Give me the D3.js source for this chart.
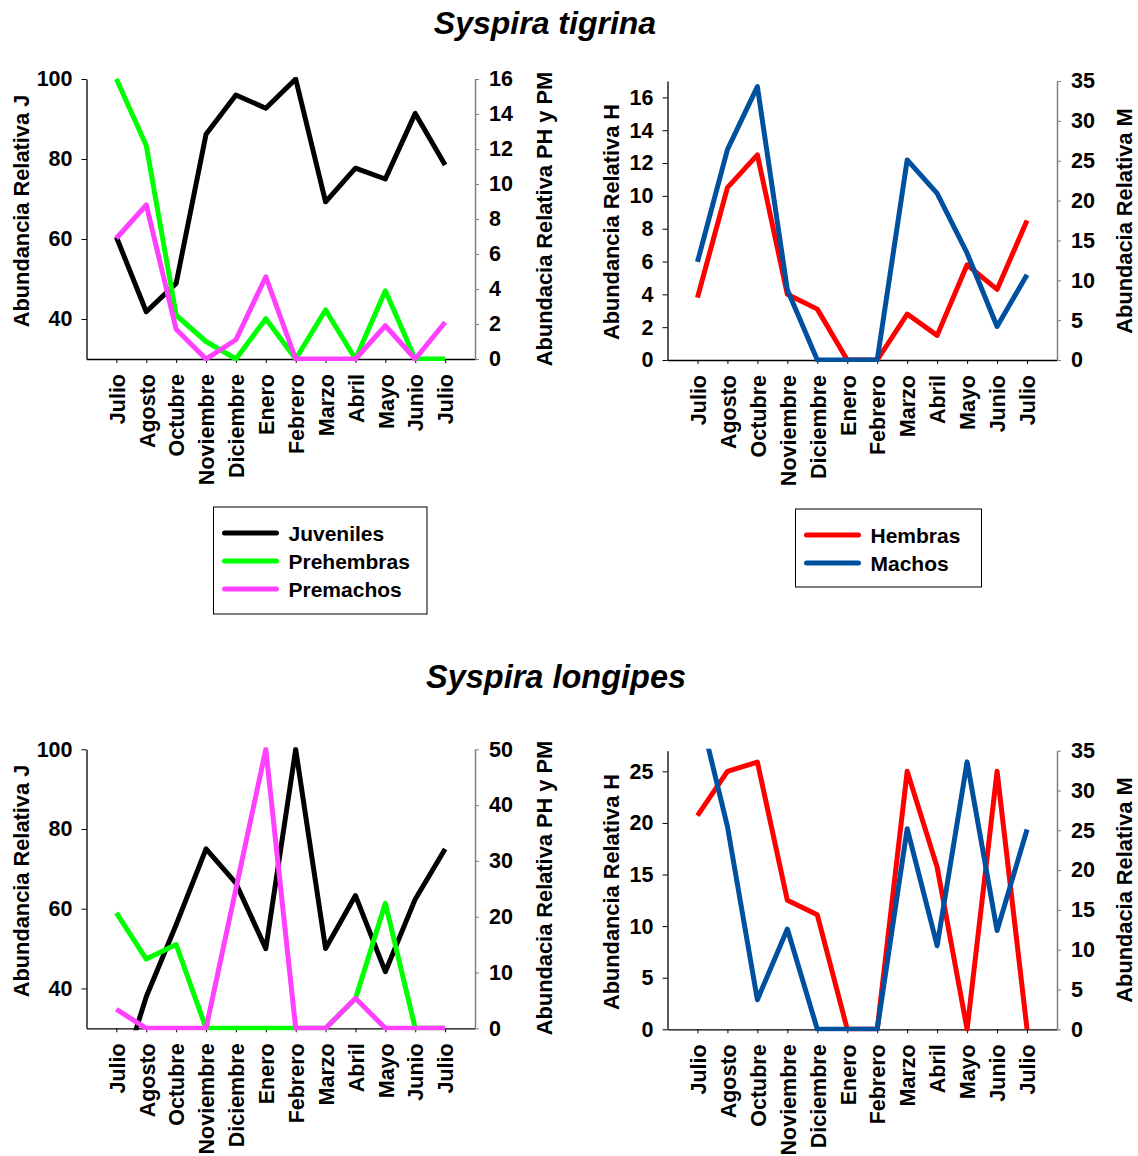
<!DOCTYPE html>
<html>
<head>
<meta charset="utf-8">
<script src="https://cdn.jsdelivr.net/npm/d3@7"></script>
<style>
  body { margin: 0; background: #fff; }
  text { font-family: "Liberation Sans", Arial, sans-serif; font-weight: bold; fill: #000; }
</style>
</head>
<body>
<div id="chart"></div>
<script>
// meses de muestreo
var meses = ["Julio", "Agosto", "Octubre", "Noviembre", "Diciembre", "Enero", "Febrero", "Marzo", "Abril", "Mayo", "Junio", "Julio"];

// Syspira tigrina
var tigJuveniles = [60.5, 41.8, 48.9, 86.2, 96, 92.7, 100, 69.3, 77.7, 75, 91.4, 78.5];
var tigPrehembras = [16, 12.2, 2.5, 1.0, 0, 2.3, 0, 2.8, 0, 3.9, 0, 0];
var tigPremachos = [6.9, 8.8, 1.7, 0, 1.1, 4.7, 0, 0, 0, 1.9, 0, 2.1];
var tigHembras = [3.8, 10.5, 12.5, 4.0, 3.1, 0, 0, 2.8, 1.5, 5.8, 4.3, 8.5];
var tigMachos = [12.3, 26.4, 34.3, 8.8, 0, 0, 0, 25.1, 20.9, 13.4, 4.2, 10.7];

// Syspira longipes
var lonJuveniles = [14, 37.9, 56, 75, 66.4, 50, 100, 50, 63.3, 44.2, 62.4, 75];
var lonPrehembras = [20.7, 12.4, 15, 0, 0, 0, 0, 0, 5.3, 22.4, 0, 0];
var lonPremachos = [3.4, 0, 0, 0, 25, 50, 0, 0, 5.4, 0, 0, 0];
var lonHembras = [20.7, 25, 25.9, 12.5, 11.1, 0, 0, 25, 15.7, 0, 25, 0];
var lonMachos = [41, 25.5, 3.7, 12.6, 0, 0, 0, 25.2, 10.5, 33.6, 12.4, 25.1];

// ticks
var ticksJ = [40, 60, 80, 100];
var ticksTigP = [0, 2, 4, 6, 8, 10, 12, 14, 16];
var ticksLonP = [0, 10, 20, 30, 40, 50];
var ticksTigH = [0, 2, 4, 6, 8, 10, 12, 14, 16];
var ticksLonH = [0, 5, 10, 15, 20, 25];
var ticksM = [0, 5, 10, 15, 20, 25, 30, 35];

var colores = {
    juv: "#000000",
    preh: "#00ff00",
    prem: "#ff40ff",
    hem: "#ff0000",
    mac: "#0050a0"
};

var width = 1138, height = 1156;
var svg = d3.select("#chart").append("svg")
    .attr("width", width)
    .attr("height", height);

var clipCount = 0;

function drawPanel(p) {
    var g = svg.append("g");
    var idx = meses.map(function (d, i) { return String(i); });

    var x = d3.scalePoint().domain(idx).range([p.x0, p.x1]).padding(1);
    var yL = d3.scaleLinear().domain(p.left.domain).range([p.y1, p.y0]);
    var yR = d3.scaleLinear().domain(p.right.domain).range([p.y1, p.y0]);

    // eje x
    var ax = g.append("g")
        .attr("transform", "translate(0," + p.y1 + ")")
        .call(d3.axisBottom(x).tickSize(4).tickSizeOuter(0).tickFormat(function (d) { return meses[+d]; }));
    ax.select(".domain").attr("stroke", "#000").attr("stroke-width", 1.3);
    ax.selectAll(".tick line").attr("stroke", "#000");

    // eje izquierdo
    var al = g.append("g")
        .attr("transform", "translate(" + p.x0 + ",0)")
        .call(d3.axisLeft(yL).tickValues(p.left.ticks).tickSize(5).tickSizeOuter(0).tickPadding(9));
    al.select(".domain").attr("stroke", "#000").attr("stroke-width", 1.3);
    al.selectAll(".tick line").attr("stroke", "#000");

    // eje derecho
    var ar = g.append("g")
        .attr("transform", "translate(" + p.x1 + ",0)")
        .call(d3.axisRight(yR).tickValues(p.right.ticks).tickSize(4).tickSizeOuter(0).tickPadding(10));
    ar.select(".domain").attr("stroke", "#808080").attr("stroke-width", 1.5);
    ar.selectAll(".tick line").attr("stroke", "#808080");

    g.selectAll(".tick text")
        .style("font-size", "21.5px")
        .style("font-family", "Liberation Sans, Arial, sans-serif")
        .style("font-weight", "bold")
        .attr("fill", "#000");

    ax.selectAll(".tick text")
        .attr("transform", "rotate(-90)")
        .attr("text-anchor", "end")
        .attr("x", -15)
        .attr("y", 0)
        .attr("dy", "0.36em");

    // titulos de ejes
    g.append("text")
        .attr("transform", "translate(" + p.left.tx + "," + p.left.ty + ") rotate(-90)")
        .attr("text-anchor", "middle")
        .attr("dy", "0.36em")
        .style("font-size", "21.8px")
        .text(p.left.title);
    g.append("text")
        .attr("transform", "translate(" + p.right.tx + "," + p.right.ty + ") rotate(-90)")
        .attr("text-anchor", "middle")
        .attr("dy", "0.36em")
        .style("font-size", "21.8px")
        .text(p.right.title);

    // lineas
    clipCount++;
    var clipId = "clip" + clipCount;
    g.append("clipPath").attr("id", clipId)
        .append("rect")
        .attr("x", p.x0 - 10)
        .attr("y", p.y0 - 2)
        .attr("width", p.x1 - p.x0 + 20)
        .attr("height", p.y1 - p.y0 + 4);

    var lines = g.append("g").attr("clip-path", "url(#" + clipId + ")");
    p.series.forEach(function (s) {
        var y = s.axis === "left" ? yL : yR;
        var line = d3.line()
            .x(function (d, i) { return x(String(i)); })
            .y(function (d) { return y(d); });
        lines.append("path")
            .datum(s.values)
            .attr("d", line)
            .attr("fill", "none")
            .attr("stroke", s.color)
            .attr("stroke-width", 5)
            .attr("stroke-linejoin", "round")
            .attr("stroke-linecap", "butt");
    });
}

function drawLegend(l) {
    var g = svg.append("g");
    g.append("rect")
        .attr("x", l.x).attr("y", l.y)
        .attr("width", l.w).attr("height", l.h)
        .attr("fill", "#fff")
        .attr("stroke", "#000")
        .attr("stroke-width", 1);
    l.items.forEach(function (it, i) {
        var yy = l.y + 26 + i * 28;
        g.append("line")
            .attr("x1", l.x + 11).attr("x2", l.x + 63)
            .attr("y1", yy).attr("y2", yy)
            .attr("stroke", it.color)
            .attr("stroke-width", 5)
            .attr("stroke-linecap", "round");
        g.append("text")
            .attr("x", l.x + 75).attr("y", yy)
            .attr("dy", "0.36em")
            .style("font-size", "21px")
            .text(it.name);
    });
}

// titulos
svg.append("text")
    .attr("x", 545).attr("y", 34)
    .attr("text-anchor", "middle")
    .style("font-size", "32px")
    .style("font-style", "italic")
    .text("Syspira tigrina");
svg.append("text")
    .attr("x", 556).attr("y", 688)
    .attr("text-anchor", "middle")
    .style("font-size", "32.5px")
    .style("font-style", "italic")
    .text("Syspira longipes");

// S. tigrina: juveniles y pre-adultos
drawPanel({
    x0: 86.5, x1: 475, y0: 79, y1: 359,
    left: { domain: [30, 100], ticks: ticksJ, title: "Abundancia Relativa J", tx: 21, ty: 211 },
    right: { domain: [0, 16], ticks: ticksTigP, title: "Abundacia Relativa PH y PM", tx: 544, ty: 219 },
    series: [
        { values: tigJuveniles, color: colores.juv, axis: "left" },
        { values: tigPrehembras, color: colores.preh, axis: "right" },
        { values: tigPremachos, color: colores.prem, axis: "right" }
    ]
});

// S. tigrina: adultos
drawPanel({
    x0: 667.5, x1: 1057, y0: 81, y1: 360,
    left: { domain: [0, 17], ticks: ticksTigH, title: "Abundancia Relativa H", tx: 611, ty: 222 },
    right: { domain: [0, 35], ticks: ticksM, title: "Abundacia Relativa M", tx: 1124, ty: 221 },
    series: [
        { values: tigHembras, color: colores.hem, axis: "left" },
        { values: tigMachos, color: colores.mac, axis: "right" }
    ]
});

// S. longipes: juveniles y pre-adultos
drawPanel({
    x0: 86.5, x1: 475, y0: 749.3, y1: 1028.3,
    left: { domain: [30, 100], ticks: ticksJ, title: "Abundancia Relativa J", tx: 21, ty: 881 },
    right: { domain: [0, 50], ticks: ticksLonP, title: "Abundacia Relativa PH y PM", tx: 544, ty: 888 },
    series: [
        { values: lonJuveniles, color: colores.juv, axis: "left" },
        { values: lonPrehembras, color: colores.preh, axis: "right" },
        { values: lonPremachos, color: colores.prem, axis: "right" }
    ]
});

// S. longipes: adultos
drawPanel({
    x0: 667.5, x1: 1057, y0: 750.7, y1: 1029.3,
    left: { domain: [0, 27], ticks: ticksLonH, title: "Abundancia Relativa H", tx: 611, ty: 892 },
    right: { domain: [0, 35], ticks: ticksM, title: "Abundacia Relativa M", tx: 1124, ty: 890 },
    series: [
        { values: lonHembras, color: colores.hem, axis: "left" },
        { values: lonMachos, color: colores.mac, axis: "right" }
    ]
});

// leyendas
drawLegend({
    x: 213.5, y: 507, w: 213.5, h: 107,
    items: [
        { name: "Juveniles", color: colores.juv },
        { name: "Prehembras", color: colores.preh },
        { name: "Premachos", color: colores.prem }
    ]
});
drawLegend({
    x: 795.5, y: 509, w: 186, h: 78,
    items: [
        { name: "Hembras", color: colores.hem },
        { name: "Machos", color: colores.mac }
    ]
});
</script>
</body>
</html>
